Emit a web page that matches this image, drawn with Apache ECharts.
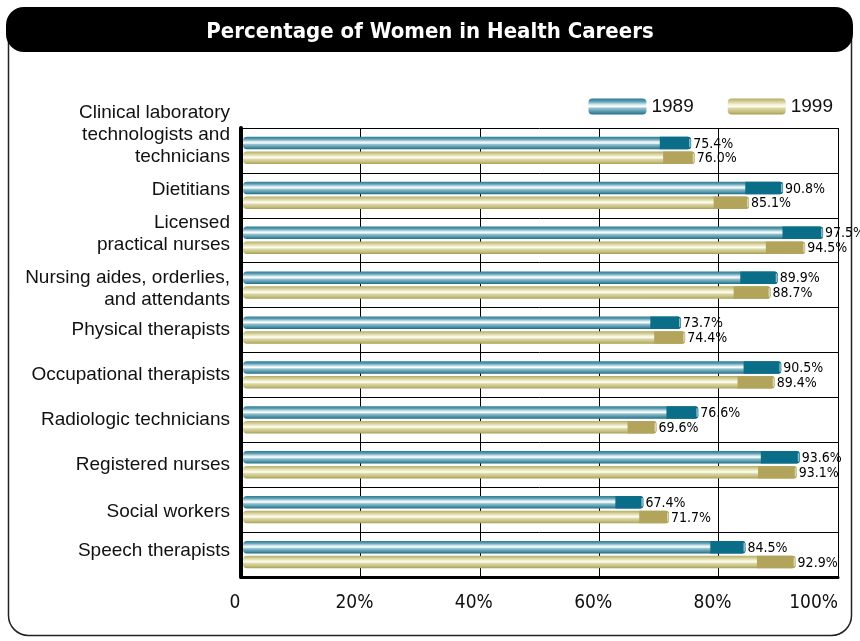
<!DOCTYPE html>
<html>
<head>
<meta charset="utf-8">
<script src="https://cdn.jsdelivr.net/npm/echarts@6/dist/echarts.min.js"></script>
<style>
html,body{margin:0;padding:0;background:#fff;}
#chart{width:860px;height:641px;}
</style>
</head>
<body>
<div id="chart"></div>
<script>
const categories = [
  "Clinical laboratory\ntechnologists and\ntechnicians",
  "Dietitians",
  "Licensed\npractical nurses",
  "Nursing aides, orderlies,\nand attendants",
  "Physical therapists",
  "Occupational therapists",
  "Radiologic technicians",
  "Registered nurses",
  "Social workers",
  "Speech therapists"
];
const values1989 = [75.4, 90.8, 97.5, 89.9, 73.7, 90.5, 76.6, 93.6, 67.4, 84.5];
const values1999 = [76.0, 85.1, 94.5, 88.7, 74.4, 89.4, 69.6, 93.1, 71.7, 92.9];
const xTicks = [0, 20, 40, 60, 80, 100];
const seriesNames = ["1989", "1999"];

// styling (not data): vertical nudges of category labels (px, + = up)
const labelShiftUp = [16, 6, 6, -4, 0, 0, 0, 0, -2, 4];
const FONT_C = "DejaVu Sans Condensed";
const FONT_R = "Liberation Sans";

function grad(stops) {
  return new echarts.graphic.LinearGradient(0, 0, 0, 1, stops.map((c) => ({offset: c[0], color: c[1]})));
}
const bodyGrad = [
  [[0, '#2c7c94'], [0.18, '#5a9db2'], [0.38, '#d5e8ee'], [0.5, '#ffffff'], [0.62, '#93c0ce'], [0.85, '#4a92a7'], [1, '#1f6c83']],
  [[0, '#b3ad64'], [0.18, '#d2cd92'], [0.38, '#f3f0d8'], [0.5, '#fffef5'], [0.62, '#dcd8a6'], [0.85, '#c3bd7a'], [1, '#a49d55']]
];
const capColor = ['#0b6e88', '#b2a55b'];

function makeRender(k) {
  return function (params, api) {
    const idx = api.value(1);
    const val = api.value(0);
    const p0 = api.coord([0, idx]);
    const p1 = api.coord([val, idx]);
    const band = api.size([0, 1])[1];
    const h = 12.5;
    const off = (k === 0 ? -1 : 1) * (band * 0.165);
    const yc = p0[1] + off;
    const x0 = p0[0] + 2;
    const x1 = p1[0];
    const capW = (x1 - x0) * 0.07;
    return {
      type: 'group',
      children: [
        {type: 'rect', shape: {x: x0, y: yc - h / 2, width: x1 - x0, height: h, r: 4},
         style: {fill: grad(bodyGrad[k])}},
        {type: 'rect', shape: {x: x1 - capW, y: yc - h / 2, width: capW, height: h, r: [0, 3, 3, 0]},
         style: {fill: capColor[k]}},
        {type: 'rect', shape: {x: x1 - 2, y: yc - h / 2 + 2, width: 1.5, height: h - 4},
         style: {fill: 'rgba(255,255,255,0.55)'}},
        {type: 'text', x: x1 + 2, y: yc + 1,
         style: {text: val.toFixed(1) + '%', fill: '#000', font: '14px "' + FONT_C + '"',
                 verticalAlign: 'middle', align: 'left'}}
      ]
    };
  };
}

// rich spacer styles for label nudges
const yRich = {};
labelShiftUp.forEach(s => {
  if (s) yRich['g' + Math.abs(s)] = {lineHeight: 2 * Math.abs(s), fontSize: 1};
});
function yLabelFormatter(v, i) {
  const s = labelShiftUp[i] || 0;
  if (s > 0) return v + '\n{g' + s + '| }';
  if (s < 0) return '{g' + (-s) + '| }\n' + v;
  return v;
}

const chart = echarts.init(document.getElementById('chart'), null, {renderer: 'canvas'});
chart.setOption({
  animation: false,
  backgroundColor: '#fff',
  graphic: [
    {type: 'rect', z: 0, shape: {x: 8.5, y: 20.5, width: 843, height: 615, r: 20},
     style: {fill: 'none', stroke: '#222', lineWidth: 1.5}},
    {type: 'rect', z: 1, shape: {x: 6, y: 7, width: 847, height: 45, r: 18},
     style: {fill: '#000'}}
  ],
  title: {
    text: 'Percentage of Women in Health Careers',
    left: 'center', top: 16, z: 10,
    textStyle: {color: '#fff', fontFamily: FONT_C, fontWeight: 'bold', fontSize: 22}
  },
  legend: {
    right: 22, top: 92, itemWidth: 58, itemHeight: 16, itemGap: 34,
    textStyle: {fontFamily: FONT_R, fontSize: 19, color: '#111'},
    data: seriesNames.map((n, k) => ({
      name: n, icon: 'roundRect',
      itemStyle: {color: grad(bodyGrad[k])}
    }))
  },
  grid: {left: 241, right: 22, top: 128, bottom: 64, containLabel: false, outerBoundsMode: 'none'},
  xAxis: {
    type: 'value', min: 0, max: 100, interval: 20,
    axisLine: {show: true, lineStyle: {color: '#000', width: 3}},
    axisTick: {show: false},
    splitLine: {show: true, lineStyle: {color: '#000', width: 1}},
    axisLabel: {
      margin: 17, color: '#111', fontFamily: FONT_C, fontSize: 19,
      alignMaxLabel: 'right',
      formatter: v => !xTicks.includes(v) ? '' :
        (v === 100 ? '{e|100%}' : '{n|' + (v === 0 ? '0' : v + '%') + '}'),
      rich: {
        n: {padding: [0, 12, 0, 0], fontFamily: FONT_C, fontSize: 19, color: '#111'},
        e: {padding: [0, 0, 0, 0], fontFamily: FONT_C, fontSize: 19, color: '#111'}
      }
    }
  },
  yAxis: {
    type: 'category', inverse: true, data: categories,
    axisLine: {show: true, lineStyle: {color: '#000', width: 4}},
    axisTick: {show: false},
    splitLine: {show: true, lineStyle: {color: '#000', width: 1}},
    axisLabel: {
      interval: 0, hideOverlap: false, margin: 11, color: '#111',
      fontFamily: FONT_R, fontSize: 19, lineHeight: 22, align: 'right',
      formatter: yLabelFormatter, rich: yRich
    }
  },
  series: seriesNames.map((n, k) => ({
    name: n, type: 'custom',
    itemStyle: {color: capColor[k]},
    encode: {x: 0, y: 1},
    data: (k === 0 ? values1989 : values1999).map((v, i) => [v, i]),
    renderItem: makeRender(k),
    z: 5
  }))
});
</script>
</body>
</html>
